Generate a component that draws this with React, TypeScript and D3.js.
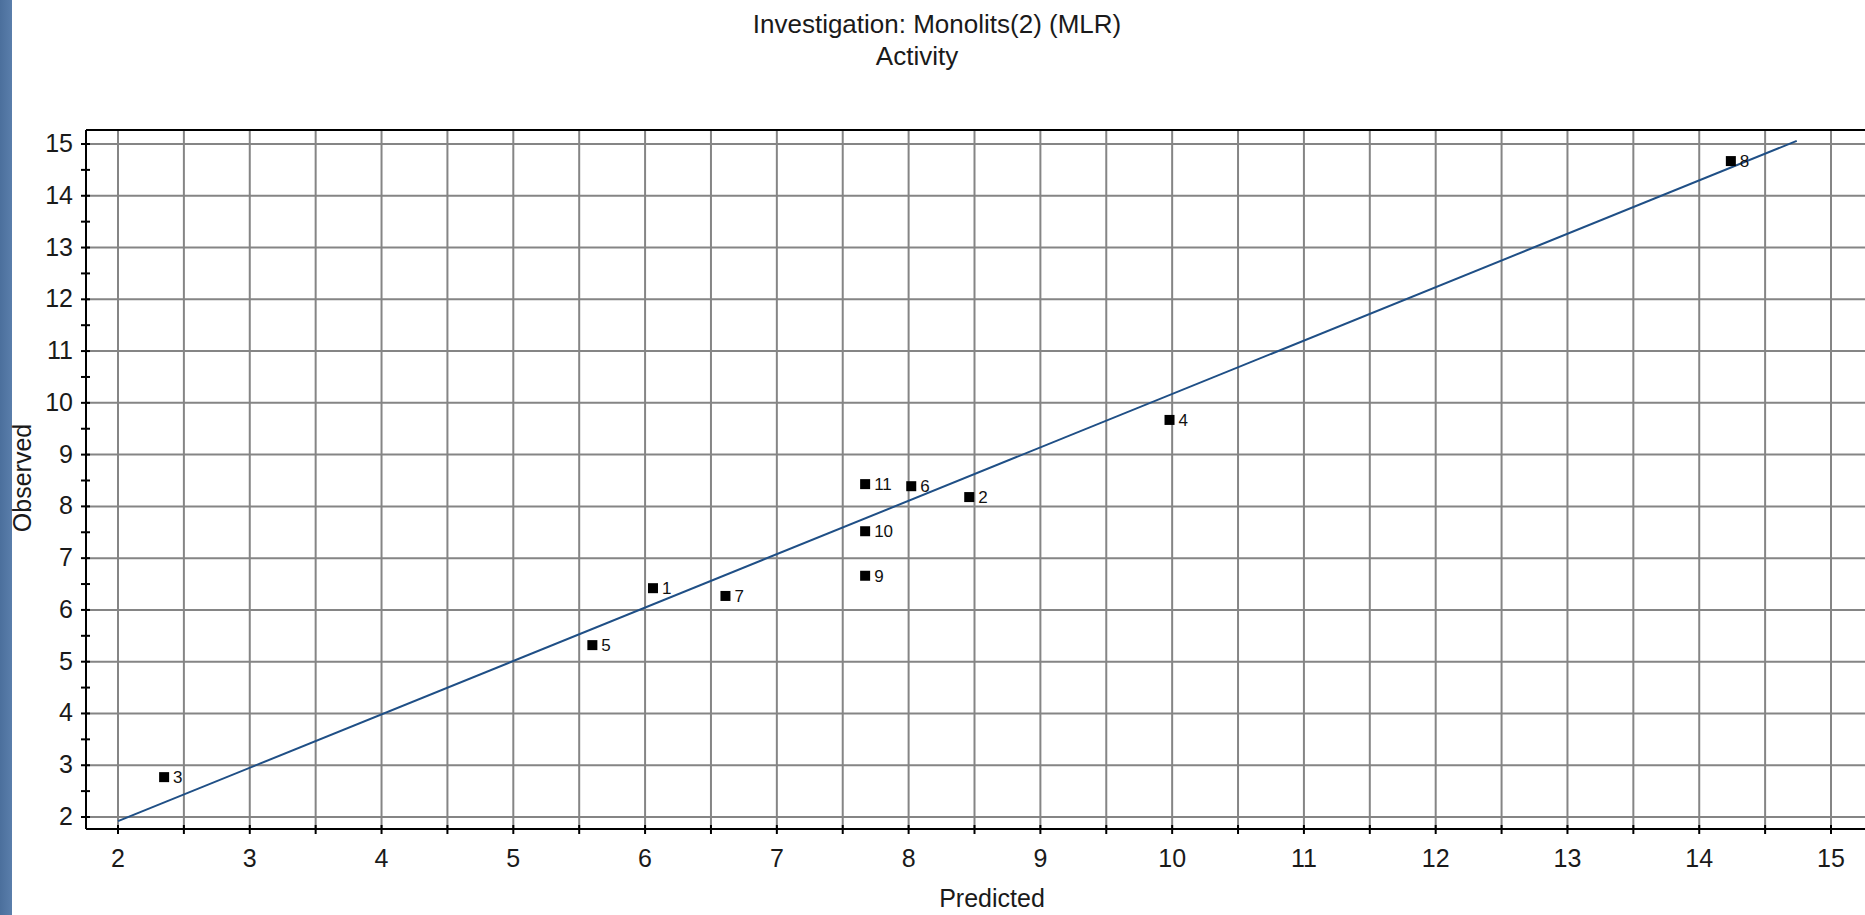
import React from "react";
import { scaleLinear, range, line } from "d3";

// point ids, predicted (x) and observed (y) values
const ids = ["1", "2", "3", "4", "5", "6", "7", "8", "9", "10", "11"];
const predicted = [6.06, 8.46, 2.35, 9.98, 5.6, 8.02, 6.61, 14.24, 7.67, 7.67, 7.67];
const observed = [6.42, 8.18, 2.77, 9.67, 5.32, 8.39, 6.27, 14.67, 6.66, 7.52, 8.43];

// regression line end points [predicted, observed]
const fitLine: [number, number][] = [
  [2, 1.92],
  [14.74, 15.06],
];

const xTicks = range(2, 16, 1);
const yTicks = range(2, 16, 1);
const xMinor = range(2, 15.5, 0.5);
const yMinor = range(2, 15.5, 0.5);

const W = 1865;
const H = 915;
const font = "'Liberation Sans', Arial, sans-serif";

export default function App() {
  const plot = { left: 86, top: 130, right: 1872, bottom: 829 };

  const x = scaleLinear().domain([2, 15]).range([118, 1831]);
  const y = scaleLinear().domain([2, 15]).range([817, 144]);

  const fitPath = line<[number, number]>()
    .x(d => x(d[0]))
    .y(d => y(d[1]))(fitLine);

  return (
    <svg
      width={W}
      height={H}
      style={{ position: "absolute", left: 0, top: 0, background: "#fff" }}
    >
      <defs>
        <linearGradient id="strip" x1="0" x2="1" y1="0" y2="0">
          <stop offset="0" stopColor="#4b6f9c" />
          <stop offset="1" stopColor="#5a7eab" />
        </linearGradient>
      </defs>
      <rect x={0} y={0} width={12} height={H} fill="url(#strip)" />

      {/* title */}
      <text x={937} y={33} textAnchor="middle" fontFamily={font} fontSize={26} fill="#1a1a1a">
        Investigation: Monolits(2) (MLR)
      </text>
      <text x={917} y={65} textAnchor="middle" fontFamily={font} fontSize={26} fill="#1a1a1a">
        Activity
      </text>

      {/* grid */}
      {xMinor.map(v => (
        <line key={"gx" + v} x1={x(v)} x2={x(v)} y1={plot.top} y2={plot.bottom} stroke="#858585" strokeWidth={2} />
      ))}
      {yTicks.map(v => (
        <line key={"gy" + v} x1={plot.left} x2={plot.right} y1={y(v)} y2={y(v)} stroke="#858585" strokeWidth={2} />
      ))}

      {/* frame + axes */}
      <line x1={plot.left} x2={plot.right} y1={plot.top} y2={plot.top} stroke="#000" strokeWidth={2} />
      <line x1={plot.left} x2={plot.left} y1={plot.top} y2={plot.bottom} stroke="#000" strokeWidth={2} />
      <line x1={plot.left} x2={plot.right} y1={plot.bottom} y2={plot.bottom} stroke="#000" strokeWidth={2} />

      {xMinor.map(v => (
        <line key={"tx" + v} x1={x(v)} x2={x(v)} y1={plot.bottom - 4} y2={plot.bottom + 5} stroke="#000" strokeWidth={2} />
      ))}
      {yMinor.map(v => (
        <line key={"ty" + v} x1={plot.left - 5} x2={plot.left + 4} y1={y(v)} y2={y(v)} stroke="#000" strokeWidth={2} />
      ))}

      {xTicks.map(v => (
        <text key={"lx" + v} x={x(v)} y={867} textAnchor="middle" fontFamily={font} fontSize={25} fill="#1a1a1a">
          {v}
        </text>
      ))}
      {yTicks.map(v => (
        <text key={"ly" + v} x={73} y={y(v) + 8} textAnchor="end" fontFamily={font} fontSize={25} fill="#1a1a1a">
          {v}
        </text>
      ))}

      {/* axis titles */}
      <text x={992} y={907} textAnchor="middle" fontFamily={font} fontSize={25} fill="#1a1a1a">
        Predicted
      </text>
      <text
        transform={`translate(31,478) rotate(-90)`}
        textAnchor="middle"
        fontFamily={font}
        fontSize={25}
        fill="#1a1a1a"
      >
        Observed
      </text>

      {/* regression line */}
      <path d={fitPath ?? ""} fill="none" stroke="#1f4f86" strokeWidth={2} />

      {/* points */}
      {ids.map((id, i) => (
        <g key={id}>
          <rect x={x(predicted[i]) - 5} y={y(observed[i]) - 5} width={10} height={10} fill="#000" />
          <text x={x(predicted[i]) + 9} y={y(observed[i]) + 6} fontFamily={font} fontSize={17} fill="#111">
            {id}
          </text>
        </g>
      ))}
    </svg>
  );
}
